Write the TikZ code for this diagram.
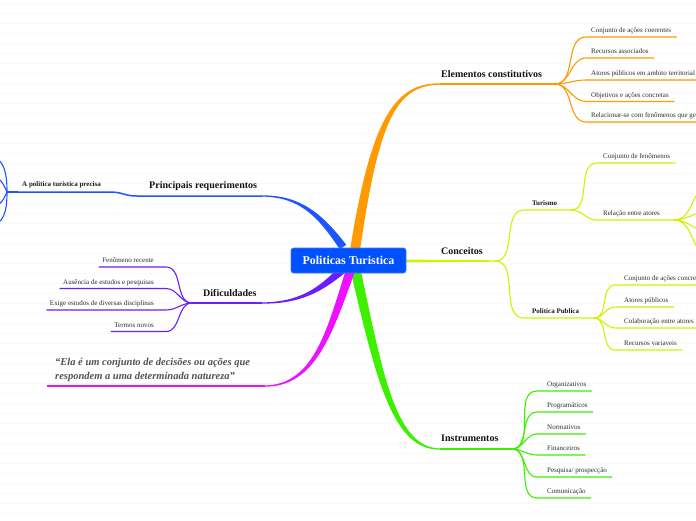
\documentclass[tikz,border=0pt]{standalone}
\usepackage{fontspec}
\setmainfont{Liberation Serif}
\usetikzlibrary{calc}
\definecolor{cOrange}{HTML}{FF9B00}
\definecolor{cYellow}{HTML}{D4F200}
\definecolor{cGreen}{HTML}{3DF000}
\definecolor{cBlue}{HTML}{1F55FF}
\definecolor{cNode}{HTML}{0050FF}
\definecolor{cNodeB}{HTML}{3D7CFF}
\definecolor{cPurple}{HTML}{6A1EFF}
\definecolor{cMagenta}{HTML}{EE10FF}
\tikzset{
 sub/.style={line width=1.1pt, line cap=round},
 mainline/.style={line width=1.5pt},
 lbl/.style={font=\fontsize{7}{8}\selectfont, text=black!82, inner sep=0pt},
 blbl/.style={font=\fontsize{7}{8}\selectfont\bfseries, text=black!90, inner sep=0pt},
 topic/.style={font=\fontsize{10}{12}\selectfont\bfseries, text=black!92, inner sep=0pt},
 quotetext/.style={font=\fontsize{10.5}{12}\selectfont\bfseries\itshape, text=black!68, inner sep=0pt},
 centre/.style={fill=cNode, draw=cNodeB, line width=0.6pt, rounded corners=2.5pt, minimum width=115pt, minimum height=25pt, inner sep=0pt, text=white, font=\fontsize{12}{14}\selectfont\bfseries},
 stripe/.style={draw=black!2.5, line width=0.8pt},
}
% right-hand child: name, colour, parent, curve end x, line y, text x, text
\newcommand\mmR[7]{%
  \coordinate (#1s) at (#4,#5);
  \node[lbl, anchor=base west] (#1) at (#6,#5-4.5) {#7};
  \draw[sub,#2] (#3) to[out=0,in=180] (#1s) -- ($(#1.east |- #1s)+(5,0)$);
}
% left-hand child
\newcommand\mmL[7]{%
  \coordinate (#1s) at (#4,#5);
  \node[lbl, anchor=base east] (#1) at (#6,#5-4.5) {#7};
  \draw[sub,#2] (#3) to[out=180,in=0] (#1s) -- ($(#1.west |- #1s)+(-3,0)$);
}
\begin{document}
\begin{tikzpicture}[x=1pt,y=-1pt]
\useasboundingbox (0,0) rectangle (696,520);
\fill[white] (0,0) rectangle (696,520);
\foreach \k in {0,...,51} \draw[stripe] (0,3.5+10*\k) -- (696,3.5+10*\k);

% ---------- orange : Elementos constitutivos ----------
\coordinate (oS) at (355,250);
\coordinate (oE) at (440,84);
\coordinate (oj) at (555,84);
\fill[cOrange] ($(oS)+(-5,0)$) .. controls (371,120) and (394,82.8) .. ($(oE)+(0,-0.7)$)
  -- ($(oE)+(0,0.7)$) .. controls (396,85.2) and (379,120) .. ($(oS)+(5,0)$) -- cycle;
\draw[mainline,cOrange] (oE) -- (oj);
\node[topic, anchor=base west] (elem) at (441,77) {Elementos constitutivos};
\mmR{o1}{cOrange}{oj}{586}{37}{591}{Conjunto de ações coerentes}
\mmR{o2}{cOrange}{oj}{586}{58}{591}{Recursos associados}
\mmR{o3}{cOrange}{oj}{586}{80}{591}{Atores públicos em ambito territorial}
\mmR{o4}{cOrange}{oj}{586}{101.5}{591}{Objetivos e ações concretas}
\mmR{o5}{cOrange}{oj}{586}{122}{591}{Relacionar-se com fenômenos que ge}

% ---------- yellow : Conceitos ----------
\coordinate (yS) at (405,261);
\coordinate (yj) at (495,261);
\fill[cYellow] ($(yS)+(0,-1.4)$) -- ($(yj)+(0,-0.7)$) -- ($(yj)+(0,0.7)$) -- ($(yS)+(0,1.4)$) -- cycle;
\node[topic, anchor=base west] (conc) at (441,254) {Conceitos};
\coordinate (tS) at (524,210);
\coordinate (tj) at (571,210);
\draw[sub,cYellow] (yj) to[out=0,in=180] (tS) -- (tj);
\node[blbl, anchor=base west] (tur) at (532,205) {Turismo};
\coordinate (pS) at (524,318);
\coordinate (pj) at (594,318);
\draw[sub,cYellow] (yj) to[out=0,in=180] (pS) -- (pj);
\node[blbl, anchor=base west] (pol) at (532,313) {Politica Publica};
\mmR{t1}{cYellow}{tj}{597}{163}{603}{Conjunto de fenômenos}
\coordinate (t2s) at (597,220);
\coordinate (rj) at (674,220);
\node[lbl, anchor=base west] (t2) at (603,215.5) {Relação entre atores};
\draw[sub,cYellow] (tj) to[out=0,in=180] (t2s) -- (rj);
\coordinate (r1) at (712,184);
\coordinate (r2) at (712,210);
\coordinate (r3) at (712,233);
\coordinate (r4) at (712,258);
\foreach \r in {r1,r2,r3,r4} \draw[sub,cYellow] (rj) to[out=0,in=180] (\r);
\mmR{p1}{cYellow}{pj}{615}{285}{624}{Conjunto de ações concre}
\mmR{p2}{cYellow}{pj}{615}{307}{624}{Atores públicos}
\mmR{p3}{cYellow}{pj}{615}{328}{624}{Colaboração entre atores}
\mmR{p4}{cYellow}{pj}{615}{350}{624}{Recursos variaveis}

% ---------- green : Instrumentos ----------
\coordinate (gS) at (356,272);
\coordinate (gE) at (440,449);
\coordinate (gj) at (512,449);
\fill[cGreen] ($(gS)+(4.9,-1.1)$) .. controls (383.5,379) and (397,447.8) .. ($(gE)+(0,-0.6)$)
  -- ($(gE)+(0,0.6)$) .. controls (393,450.2) and (376.5,381) .. ($(gS)+(-4.9,1.1)$) -- cycle;
\draw[mainline,cGreen] (gE) -- (gj);
\node[topic, anchor=base west] (instr) at (441,441) {Instrumentos};
\mmR{g1}{cGreen}{gj}{537}{391}{547}{Organizativos}
\mmR{g2}{cGreen}{gj}{537}{412}{547}{Programáticos}
\mmR{g3}{cGreen}{gj}{537}{434}{547}{Normativos}
\mmR{g4}{cGreen}{gj}{537}{455}{547}{Financeiros}
\mmR{g5}{cGreen}{gj}{537}{477}{547}{Pesquisa/ prospecção}
\mmR{g6}{cGreen}{gj}{537}{498}{547}{Comunicação}

% ---------- blue : Principais requerimentos ----------
\coordinate (bS) at (343,247);
\coordinate (bE) at (262,196);
\coordinate (b1) at (137,196);
\coordinate (b2) at (110,192);
\coordinate (lj) at (7,192);
\coordinate (lk) at (18,192);
\fill[cBlue] ($(bS)+(3.2,-2.3)$) .. controls (322,213.3) and (300,195) .. ($(bE)+(0,-0.6)$)
  -- ($(bE)+(0,0.6)$) .. controls (300,197) and (318,216.7) .. ($(bS)+(-3.2,2.3)$) -- cycle;
\draw[mainline,cBlue] (bE) -- (b1) .. controls (124,196) and (123,192) .. (b2) -- (lj);
\draw[cBlue, line width=2.6pt] (lk) -- (lj);
\node[topic, anchor=base west] (princ) at (149,188) {Principais requerimentos};
\node[blbl, anchor=base west] (prec) at (22,186) {A politica turistica precisa};
\coordinate (l1) at (-12,154);
\coordinate (l2) at (-12,174);
\coordinate (l3) at (-12,209);
\coordinate (l4) at (-12,228);
\draw[sub,cBlue] (lj) .. controls (7,172) and (4,158) .. (l1);
\draw[sub,cBlue] (lj) .. controls (4,186) and (2,177) .. (l2);
\draw[sub,cBlue] (lj) .. controls (4,198) and (2,206) .. (l3);
\draw[sub,cBlue] (lj) .. controls (7,212) and (4,224) .. (l4);

% ---------- purple : Dificuldades ----------
\coordinate (dS) at (342,270);
\coordinate (dE) at (262,303);
\coordinate (dj) at (192,303);
\fill[cPurple] ($(dS)+(2.7,3)$) .. controls (321.5,292) and (300,304) .. ($(dE)+(0,0.6)$)
  -- ($(dE)+(0,-0.6)$) .. controls (300,302) and (318.5,288) .. ($(dS)+(-2.7,-3)$) -- cycle;
\draw[mainline,cPurple] (dE) -- (dj);
\node[topic, anchor=base west] (dif) at (203,296) {Dificuldades};
\mmL{d1}{cPurple}{dj}{166}{267}{154}{Fenômeno recente}
\mmL{d2}{cPurple}{dj}{166}{288.5}{154}{Ausência de estudos e pesquisas}
\mmL{d3}{cPurple}{dj}{166}{310}{154}{Exige estudos de diversas disciplinas}
\mmL{d4}{cPurple}{dj}{166}{331.5}{154}{Termos novos}

% ---------- magenta : quote ----------
\coordinate (mS) at (350,272);
\coordinate (mE) at (265,386);
\coordinate (mj) at (47,386);
\fill[cMagenta] ($(mS)+(4.3,1.5)$) .. controls (333,331) and (316,387.2) .. ($(mE)+(0,0.6)$)
  -- ($(mE)+(0,-0.6)$) .. controls (314,384.8) and (327,329) .. ($(mS)+(-4.3,-1.5)$) -- cycle;
\draw[mainline,cMagenta] (mE) -- (mj);
\node[quotetext, anchor=base west] (q1) at (55,365) {“Ela é um conjunto de decisões ou ações que};
\node[quotetext, anchor=base west] (q2) at (55,379) {respondem a uma determinada natureza”};

% ---------- centre ----------
\node[centre] (C) at (348.5,260.5) {Politicas Turistica};
\end{tikzpicture}
\end{document}
